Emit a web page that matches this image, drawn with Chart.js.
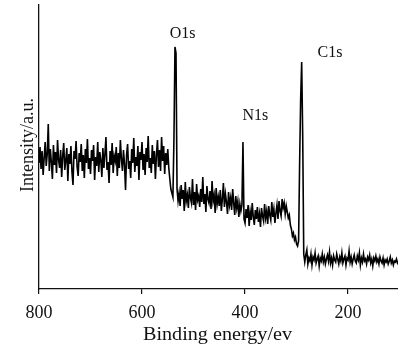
<!DOCTYPE html>
<html>
<head>
<meta charset="utf-8">
<script src="https://cdn.jsdelivr.net/npm/chart.js"></script>
<style>
  body { margin: 0; background: #fff; }
  #wrap { width: 398px; height: 348px; }
</style>
</head>
<body>
<div id="wrap"><canvas id="xps" width="398" height="348"></canvas></div>
<script>
// binding energy grid of the survey scan (eV, high -> low)
const energyStart = 800
const energyStep = 2
const xTicks = [800, 600, 400, 200]

// intensity (a.u.), region by region
const bandHigh = [
  126, 142, 120, 138, 114, 131, 147, 123, 135, 165,
  118, 140, 127, 110, 144, 124, 137, 116, 149, 129,
  121, 139, 112, 133, 146, 119, 128, 141, 108, 135,
  125, 143, 117, 104, 138, 130, 148, 122, 113, 136,
  127, 145, 118, 134, 111, 140, 126, 150, 120, 131,
  115, 139, 128, 144, 109, 132, 123, 147, 117, 137,
  129, 112, 141, 121, 135, 152, 119, 127, 106, 138,
  124, 146, 116, 133, 128, 142, 113, 136, 121, 149,
  130, 118, 139, 125, 99, 134, 145, 120, 128, 111,
  140, 126, 151, 117, 132, 123, 143, 109, 137, 129,
  147, 119, 135, 114, 141, 127, 153, 121, 131, 116,
  144, 125, 138, 110, 134, 149, 122, 139, 118, 152,
  128, 143, 115, 136, 124, 140, 121
]
const o1sPeak = [110, 100, 96, 92, 150, 242, 236, 100, 88]
const bandMid = [
  96, 83, 104, 90, 99, 78, 107, 88, 94, 81,
  102, 91, 86, 110, 84, 97, 79, 105, 89, 93,
  82, 100, 87, 112, 85, 95, 77, 103, 90, 86,
  98, 80, 108, 88, 94, 76, 101, 85, 92, 83,
  99, 78, 90, 106, 82, 95, 87, 75, 97, 84,
  91, 79, 100, 86, 74, 93, 81, 88, 72, 85,
  78
]
const n1sPeak = [84, 147, 70]
const bandLow = [
  66, 80, 71, 84, 63, 77, 69, 86, 72, 64,
  79, 70, 82, 67, 75, 62, 81, 73, 68, 85,
  71, 78, 65, 83, 74, 69, 87, 72, 80, 66,
  76, 84, 70, 88, 78, 73, 90, 81, 86, 75,
  83, 77, 71, 74, 64, 60, 53, 56, 49, 52,
  45, 43, 48
]
const c1sPeak = [126, 190, 227, 152, 35]
const bandTail = [
  27, 34, 39, 25, 31, 28, 35, 24, 32, 29,
  36, 26, 30, 33, 23, 31, 28, 35, 27, 32,
  25, 30, 34, 28, 37, 26, 31, 24, 33, 29,
  27, 35, 30, 25, 32, 28, 36, 26, 30, 33,
  24, 31, 29, 38, 27, 32, 25, 30, 34, 28,
  26, 33, 29, 36, 24, 31, 27, 35, 28, 30,
  25, 32, 29, 34, 26, 30, 23, 31, 28, 33,
  27, 30, 25, 32, 28, 26, 31, 24, 29, 27,
  30, 25, 28, 32, 26, 29, 24, 28, 27, 30,
  26, 28
]

const peakNames = ['O1s', 'N1s', 'C1s']

const intensity = [...bandHigh, ...o1sPeak, ...bandMid, ...n1sPeak, ...bandLow, ...c1sPeak, ...bandTail]
const points = intensity.map((v, i) => ({ x: energyStart - i * energyStep, y: v }))

const serif = '"Liberation Serif", "Times New Roman", serif'

const textPlugin = {
  id: 'xpsText',
  afterDraw(chart) {
    const ctx = chart.ctx
    const sx = chart.scales.x
    const sy = chart.scales.y
    ctx.save()
    ctx.fillStyle = '#111'
    ctx.textBaseline = 'alphabetic'
    ctx.textAlign = 'center'

    // peak labels (energy, intensity of the label baseline)
    const spots = [[521, 251], [380, 169], [235, 232]]
    ctx.font = '16px ' + serif
    peakNames.forEach((name, k) => {
      ctx.fillText(name, sx.getPixelForValue(spots[k][0]), sy.getPixelForValue(spots[k][1]))
    })

    // y title
    ctx.font = '18px ' + serif
    ctx.save()
    ctx.translate(33, 145)
    ctx.rotate(-Math.PI / 2)
    ctx.fillText('Intensity/a.u.', 0, 0)
    ctx.restore()

    // x title, a bit wide in the original
    const title = 'Binding energy/ev'
    const w = ctx.measureText(title).width
    ctx.save()
    ctx.translate(217.5, 340)
    ctx.scale(149 / w, 1)
    ctx.fillText(title, 0, 0)
    ctx.restore()

    ctx.restore()
  }
}

new Chart(document.getElementById('xps'), {
  type: 'line',
  data: {
    datasets: [{
      data: points,
      borderColor: '#000',
      borderWidth: 1.6,
      pointRadius: 0,
      tension: 0,
      fill: false
    }]
  },
  options: {
    responsive: false,
    animation: false,
    devicePixelRatio: 1,
    layout: { padding: { left: 39, top: 5, right: 0, bottom: 0 } },
    plugins: {
      legend: { display: false },
      tooltip: { enabled: false }
    },
    scales: {
      x: {
        type: 'linear',
        reverse: true,
        min: 103,
        max: 800,
        afterBuildTicks: (scale) => { scale.ticks = xTicks.map(v => ({ value: v })) },
        afterFit: (scale) => { scale.height = 59 },
        grid: { drawOnChartArea: false, drawTicks: true, tickLength: 5, color: '#111', lineWidth: 1.2 },
        border: { display: true, color: '#111', width: 1.3 },
        ticks: {
          autoSkip: false,
          maxRotation: 0,
          padding: 8,
          color: '#111',
          font: { family: serif, size: 18 }
        }
      },
      y: {
        min: 0,
        max: 284,
        afterFit: (scale) => { scale.width = 0 },
        grid: { display: true, drawOnChartArea: false, drawTicks: false },
        border: { display: true, color: '#111', width: 1.3 },
        ticks: { display: false }
      }
    }
  },
  plugins: [textPlugin]
})
</script>
</body>
</html>
